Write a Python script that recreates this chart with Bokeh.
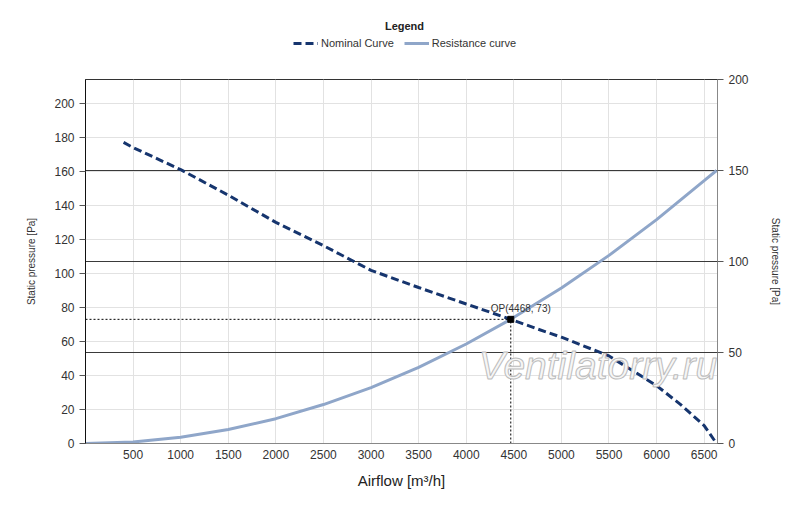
from bokeh.plotting import figure
from bokeh.layouts import column
from bokeh.models import Range1d, LinearAxis, Grid, Legend, LegendItem, Label, FixedTicker
from bokeh.core.properties import value
from bokeh.embed import file_html
from bokeh.resources import INLINE

# ---- data ----
nominal_airflow = [400, 500, 1000, 1500, 2000, 2500, 3000, 3500, 4000, 4468, 4750, 5000, 5500, 6000, 6250, 6500, 6630]
nominal_pressure = [177, 174, 161, 146, 130, 116.3, 101.8, 91.7, 82, 73, 67.3, 62.5, 51.5, 34, 23, 10.5, 0]

resistance_airflow = [0, 500, 1000, 1500, 2000, 2500, 3000, 3500, 4000, 4468, 5000, 5500, 6000, 6500, 6630]
resistance_pressure = [0, 0.9, 3.7, 8.2, 14.6, 22.9, 32.9, 44.8, 58.5, 73, 91.4, 110.6, 131.6, 154.5, 160.5]

op_airflow = 4468
op_pressure = 73

x_ticks = [500, 1000, 1500, 2000, 2500, 3000, 3500, 4000, 4500, 5000, 5500, 6000, 6500]
left_ticks = [0, 20, 40, 60, 80, 100, 120, 140, 160, 180, 200]
right_ticks = [0, 50, 100, 150, 200]

series_names = ["Nominal Curve", "Resistance curve"]

FONT = "Liberation Sans"
X_MAX = 6640
Y_MAX = 214
W = 792
TOP_H = 60
FRAME_W = 632

NOM_COLOR = "#16356e"
RES_COLOR = "#8fa6c9"

# ---------------- legend strip on top ----------------
top = figure(width=W, height=TOP_H, output_backend="svg", toolbar_location=None,
             x_range=Range1d(0, FRAME_W), y_range=Range1d(0, TOP_H),
             x_axis_type=None, y_axis_type=None,
             min_border_left=85, min_border_right=75, min_border_top=0, min_border_bottom=0)
top.outline_line_color = None
top.grid.visible = False
top.background_fill_color = "white"
top.border_fill_color = "white"
# series drawn on an out-of-view range: they only supply the legend swatches
top.extra_y_ranges = {"hidden": Range1d(-1000, -999)}
lg_nom = top.line(nominal_airflow, nominal_pressure, y_range_name="hidden",
                  line_color=NOM_COLOR, line_width=3, line_dash="8 4")
lg_res = top.line(resistance_airflow, resistance_pressure, y_range_name="hidden",
                  line_color=RES_COLOR, line_width=3)
top.text(x=[319], y=[35], text=["Legend"], text_align="center", text_baseline="middle",
         text_font=value(FONT), text_font_size="11px", text_font_style="bold", text_color="#222222")
legend = Legend(items=[LegendItem(label=series_names[0], renderers=[lg_nom]),
                       LegendItem(label=series_names[1], renderers=[lg_res])],
                orientation="horizontal", location=(206, 9),
                label_text_font=FONT, label_text_font_size="11px", label_text_color="#333333",
                glyph_width=25, glyph_height=12, label_height=12, label_standoff=3, spacing=10,
                background_fill_alpha=0, border_line_alpha=0, padding=2, margin=0)
top.add_layout(legend, "center")

# ---------------- main chart ----------------
p = figure(width=W, height=439, output_backend="svg", toolbar_location=None,
           x_range=Range1d(0, X_MAX), y_range=Range1d(0, Y_MAX),
           min_border_left=85, min_border_right=75, min_border_top=19, min_border_bottom=56)
p.extra_y_ranges = {"right": Range1d(0, 200)}
p.background_fill_color = "white"
p.border_fill_color = "white"
p.outline_line_color = "#333333"

p.xgrid.ticker = FixedTicker(ticks=x_ticks)
p.xgrid.grid_line_color = "#e2e2e2"
p.ygrid.ticker = FixedTicker(ticks=left_ticks)
p.ygrid.grid_line_color = "#e2e2e2"

xa = p.xaxis[0]
xa.ticker = FixedTicker(ticks=x_ticks)
xa.axis_label = "Airflow [m³/h]"
xa.axis_label_text_font = FONT
xa.axis_label_text_font_size = "15px"
xa.axis_label_text_font_style = "normal"
xa.axis_label_text_color = "#222222"
xa.axis_label_standoff = 10
xa.major_label_text_font = FONT
xa.major_label_text_font_size = "12px"
xa.major_label_text_color = "#333333"
xa.major_label_standoff = 6
xa.major_tick_out = 0
xa.major_tick_in = 0
xa.minor_tick_out = 0
xa.minor_tick_in = 0
xa.axis_line_color = "#888888"

ya = p.yaxis[0]
ya.ticker = FixedTicker(ticks=left_ticks)
ya.axis_label = "Static pressure [Pa]"
ya.axis_label_text_font = FONT
ya.axis_label_text_font_size = "10px"
ya.axis_label_text_font_style = "normal"
ya.axis_label_text_color = "#333333"
ya.axis_label_standoff = 14
ya.major_label_text_font = FONT
ya.major_label_text_font_size = "12px"
ya.major_label_text_color = "#333333"
ya.major_tick_out = 6
ya.major_tick_in = 0
ya.minor_tick_out = 0
ya.minor_tick_in = 0
ya.major_tick_line_color = "#555555"
ya.axis_line_color = "#111111"

ra = LinearAxis(y_range_name="right", ticker=FixedTicker(ticks=right_ticks))
ra.axis_label = "Static pressure [Pa]"
ra.axis_label_text_font = FONT
ra.axis_label_text_font_size = "10px"
ra.axis_label_text_font_style = "normal"
ra.axis_label_text_color = "#333333"
ra.axis_label_standoff = 18
ra.major_label_text_font = FONT
ra.major_label_text_font_size = "12px"
ra.major_label_text_color = "#333333"
ra.major_tick_out = 6
ra.major_tick_in = 0
ra.minor_tick_out = 0
ra.minor_tick_in = 0
ra.major_tick_line_color = "#555555"
ra.axis_line_color = "#888888"
p.add_layout(ra, "right")

rgrid = Grid(dimension=1, ticker=FixedTicker(ticks=right_ticks), y_range_name="right",
             grid_line_color="#3a3a3a", grid_line_width=1)
p.add_layout(rgrid)

# watermark
wm = Label(x=5385, y=45.7, text="Ventilatorry.ru", text_align="center", text_baseline="alphabetic",
           text_font=FONT, text_font_size="39px", text_font_style="italic",
           text_color="#f6f6f6", text_outline_color="#bcbcbc")
p.add_layout(wm)

# curves
p.line(resistance_airflow, resistance_pressure, line_color=RES_COLOR, line_width=3)
p.line(nominal_airflow, nominal_pressure, line_color=NOM_COLOR, line_width=3, line_dash="8 4")

# operating point guides
p.line([0, op_airflow], [op_pressure, op_pressure], line_color="#000000", line_width=1, line_dash="2 2")
p.line([op_airflow, op_airflow], [0, op_pressure], line_color="#000000", line_width=1, line_dash="2 2")
p.scatter([op_airflow], [op_pressure], marker="square", size=6, color="black")
op_label = Label(x=op_airflow, y=op_pressure, text="OP(%d, %d)" % (op_airflow, op_pressure),
                 x_offset=10, y_offset=5, text_align="center", text_baseline="bottom",
                 text_font=FONT, text_font_size="10px", text_color="#333333")
p.add_layout(op_label)

layout = column(top, p, spacing=0)
open("out.html", "w").write(file_html(layout, INLINE))
